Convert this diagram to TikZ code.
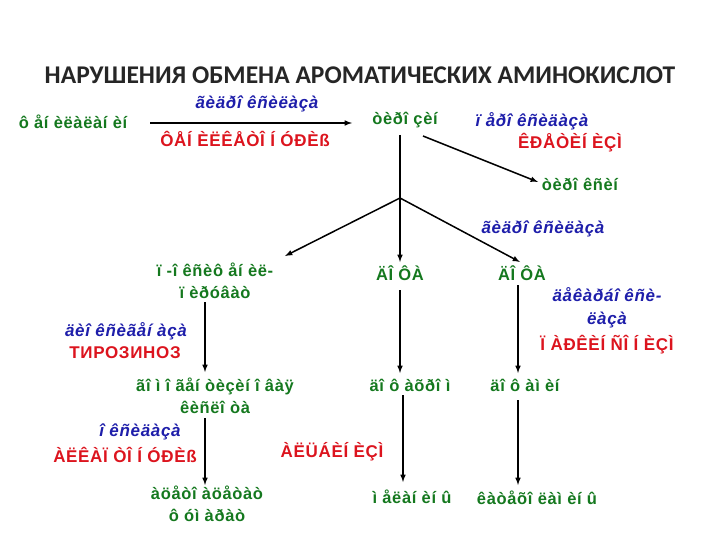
\documentclass[tikz,border=0pt]{standalone}
\usepackage{fontspec}
\setmainfont{Liberation Sans}[LetterSpace=4]
\newfontfamily\titlefont{Carlito}
\definecolor{gr}{RGB}{20,120,30}
\definecolor{bl}{RGB}{30,30,170}
\definecolor{rd}{RGB}{220,20,30}
\begin{document}
\begin{tikzpicture}[x=1pt,y=-1pt,
 g/.style={text=gr,font=\fontsize{16.5}{22}\selectfont\bfseries,align=center,inner sep=1pt},
 b/.style={text=bl,font=\fontsize{17}{23}\selectfont\bfseries\itshape,align=center,inner sep=1pt},
 r/.style={text=rd,font=\fontsize{17}{23}\selectfont\bfseries,align=center,inner sep=1pt},
 ar/.style={draw=black,line width=1.5pt,-latex},
 ln/.style={draw=black,line width=1.5pt}]
\useasboundingbox (0,0) rectangle (720,540);
\node[font=\titlefont\fontsize{25.5}{28}\selectfont\bfseries,text=black!85] (title) at (360,75) {НАРУШЕНИЯ ОБМЕНА АРОМАТИЧЕСКИХ АМИНОКИСЛОТ};
\node[g] (phe) at (73,122) {ô åí èëàëàí èí};
\node[g] (tyr) at (405,120) {òèðî çèí};
\coordinate (a1) at (150,123);
\coordinate (a2) at (352,123);
\draw[ar] (a1) -- (a2);
\node[b] (l1) at (257,104) {ãèäðî êñèëàçà};
\node[r] (l2) at (245,139) {ÔÅÍ ÈËÊÅÒÎ Í ÓÐÈß};
\node[b] (l3) at (532,121) {ï åðî êñèäàçà};
\node[r] (l4) at (570,143) {ÊÐÅÒÈÍ ÈÇÌ};
\node[g] (thx) at (580,184) {òèðî êñèí};
\coordinate (t1) at (423,136);
\draw[ar] (t1) -- (538,182);
\coordinate (t0) at (400,135);
\coordinate (br) at (400,198);
\draw[ln] (t0) -- (br);
\node[b] (l5) at (543,229) {ãèäðî êñèëàçà};
\node[g] (hpp) at (215,281) {ï -î êñèô åí èë-\\ï èðóâàò};
\node[g] (dopa1) at (400,273) {ÄÎ ÔÀ};
\node[g] (dopa2) at (522,273) {ÄÎ ÔÀ};
\draw[ar] (br) -- (285,256);
\draw[ar] (br) -- (400,262);
\draw[ar] (br) -- (520,262);
\node[b] (l6) at (126,331) {äèî êñèãåí àçà};
\node[r] (l7) at (125,353) {ТИРОЗИНОЗ};
\node[g] (hga) at (215,396) {ãî ì î ãåí òèçèí î âàÿ\\êèñëî òà};
\draw[ar] (205,302) -- (205,372);
\node[g] (dch) at (410,385) {äî ô àõðî ì};
\node[g] (dam) at (525,385) {äî ô àì èí};
\draw[ar] (400,290) -- (400,373);
\draw[ar] (518,285) -- (518,373);
\node[b] (l8) at (607,308) {äåêàðáî êñè-\\ëàçà};
\node[r] (l9) at (607,345) {Ï ÀÐÊÈÍ ÑÎ Í ÈÇÌ};
\node[b] (l10) at (140,432) {î êñèäàçà};
\node[r] (l11) at (125,455) {ÀËÊÀÏ ÒÎ Í ÓÐÈß};
\node[r] (l12) at (332,452) {ÀËÜÁÈÍ ÈÇÌ};
\node[g] (aa) at (207,504) {àöåòî àöåòàò\\ô óì àðàò};
\draw[ar] (205,418) -- (205,485);
\node[g] (mel) at (412,497) {ì åëàí èí û};
\node[g] (cat) at (537,498) {êàòåõî ëàì èí û};
\draw[ar] (403,395) -- (403,482);
\draw[ar] (518,400) -- (518,485);
\end{tikzpicture}
\end{document}
